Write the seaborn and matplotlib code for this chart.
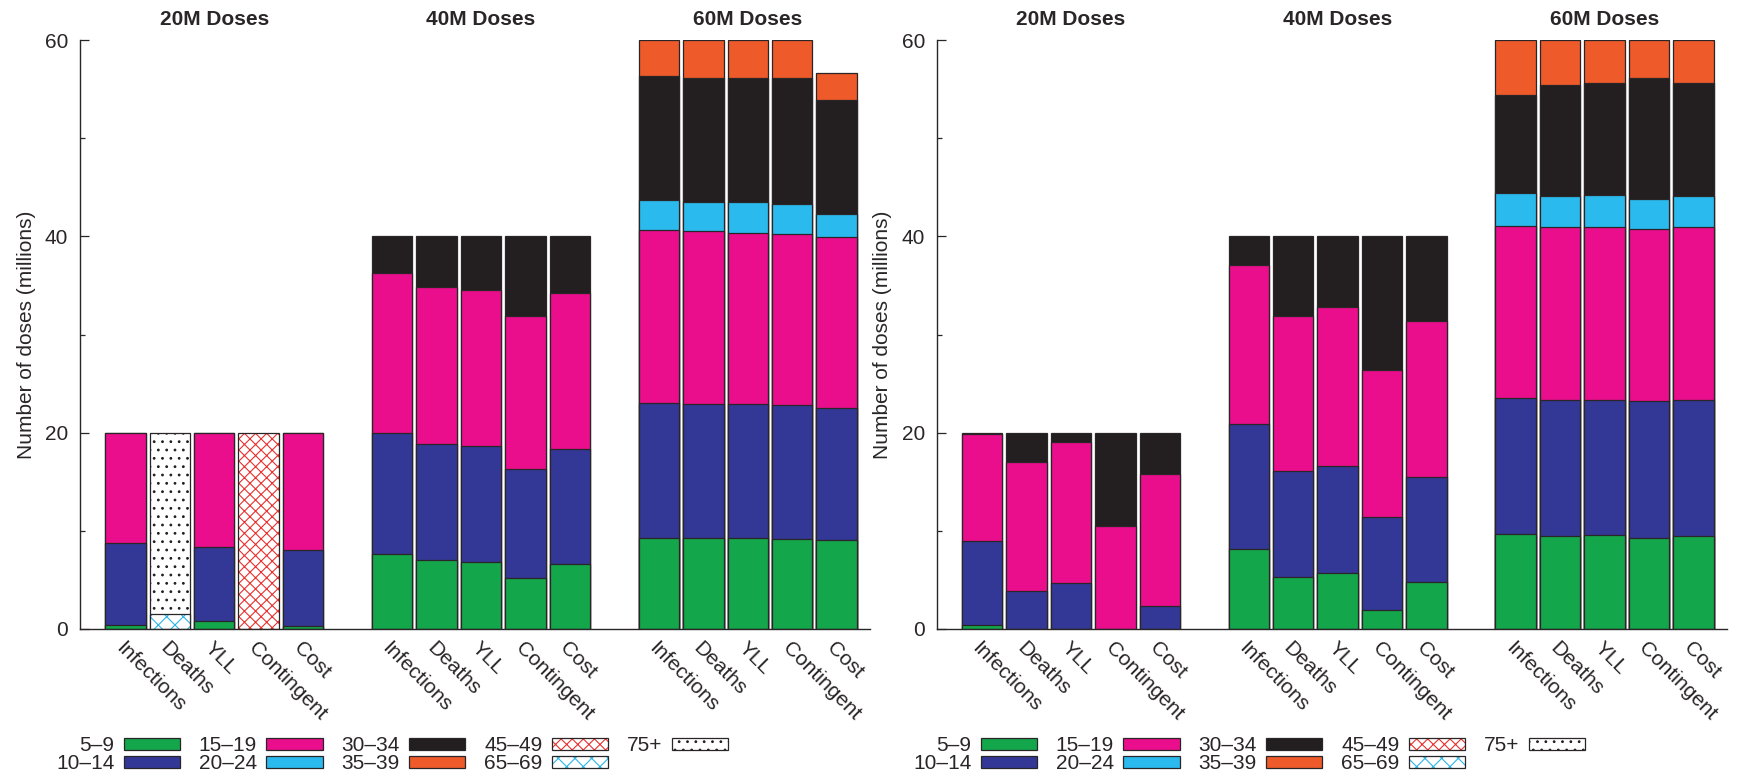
import numpy as np
import pandas as pd
import matplotlib
matplotlib.use("Agg")
import matplotlib.pyplot as plt
import matplotlib.patches as mpatches
from matplotlib.ticker import MultipleLocator
import seaborn as sns

# ---------------------------------------------------------------- data
metrics = ["Infections", "Deaths", "YLL", "Contingent", "Cost"]
dose_levels = ["20M Doses", "40M Doses", "60M Doses"]
age_groups = ["5–9", "10–14", "15–19", "20–24", "30–34", "35–39",
              "45–49", "65–69", "75+"]

# doses given to each age group (millions); 15 bars = 3 dose levels x 5 metrics
left_5_9 = [0.37, 0, 0.77, 0, 0.27, 7.63, 6.98, 6.85, 5.19, 6.64,
            9.3, 9.3, 9.3, 9.2, 9.1]
left_10_14 = [8.38, 0, 7.63, 0, 7.76, 12.37, 11.87, 11.8, 11.11, 11.66,
              13.7, 13.6, 13.6, 13.6, 13.4]
left_15_19 = [11.19, 0, 11.52, 0, 11.89, 16.25, 15.95, 15.85, 15.6, 15.9,
              17.62, 17.62, 17.48, 17.48, 17.4]
left_20_24 = [0, 0, 0, 0, 0, 0, 0, 0, 0, 0,
              3.05, 2.95, 3.09, 3.05, 2.35]
left_30_34 = [0.06, 0, 0.08, 0, 0.08, 3.75, 5.2, 5.5, 8.1, 5.8,
              12.68, 12.68, 12.68, 12.77, 11.6]
left_35_39 = [0, 0, 0, 0, 0, 0, 0, 0, 0, 0,
              3.65, 3.85, 3.85, 3.9, 2.75]
left_45_49 = [0, 0, 0, 20, 0, 0, 0, 0, 0, 0, 0, 0, 0, 0, 0]
left_65_69 = [0, 1.5, 0, 0, 0, 0, 0, 0, 0, 0, 0, 0, 0, 0, 0]
left_75_plus = [0, 18.5, 0, 0, 0, 0, 0, 0, 0, 0, 0, 0, 0, 0, 0]

right_5_9 = [0.4, 0, 0, 0, 0, 8.1, 5.3, 5.7, 1.97, 4.8,
             9.7, 9.45, 9.55, 9.3, 9.45]
right_10_14 = [8.6, 3.85, 4.65, 0, 2.3, 12.8, 10.8, 10.9, 9.43, 10.7,
               13.8, 13.85, 13.75, 13.9, 13.85]
right_15_19 = [10.9, 13.15, 14.35, 10.5, 13.5, 16.2, 15.8, 16.2, 14.95, 15.85,
               17.6, 17.6, 17.7, 17.57, 17.6]
right_20_24 = [0, 0, 0, 0, 0, 0, 0, 0, 0, 0,
               3.3, 3.16, 3.16, 3.05, 3.16]
right_30_34 = [0.1, 3.0, 1.0, 9.5, 4.2, 2.9, 8.1, 7.2, 13.65, 8.65,
               10.0, 11.34, 11.46, 12.34, 11.56]
right_35_39 = [0, 0, 0, 0, 0, 0, 0, 0, 0, 0,
               5.6, 4.6, 4.38, 3.84, 4.38]
right_45_49 = [0] * 15
right_65_69 = [0] * 15
right_75_plus = [0] * 15

left_panel = [left_5_9, left_10_14, left_15_19, left_20_24, left_30_34,
              left_35_39, left_45_49, left_65_69, left_75_plus]
right_panel = [right_5_9, right_10_14, right_15_19, right_20_24, right_30_34,
               right_35_39, right_45_49, right_65_69, right_75_plus]

# ---------------------------------------------------------------- styles
EDGE = "#2a2627"
LW = 0.9
# (facecolor, hatch, hatch colour)
styles = {
    "5–9": ("#13a64a", None, None),
    "10–14": ("#333795", None, None),
    "15–19": ("#ea0d8c", None, None),
    "20–24": ("#2bbaed", None, None),
    "30–34": ("#231f20", None, None),
    "35–39": ("#ee5a29", None, None),
    "45–49": ("white", "xxx", "#e8312f"),
    "65–69": ("white", "xx", "#2bb5e6"),
    "75+": ("white", "..", "#231f20"),
}

sns.set_style("ticks")
plt.rcParams["font.family"] = ["Liberation Sans", "DejaVu Sans"]
plt.rcParams["hatch.linewidth"] = 0.8
plt.rcParams["text.color"] = EDGE
plt.rcParams["axes.labelcolor"] = EDGE
plt.rcParams["xtick.color"] = EDGE
plt.rcParams["ytick.color"] = EDGE

# bar keys on the categorical axis, with an empty slot between dose levels
bar_keys = [f"{d}|{m}" for d in dose_levels for m in metrics]
order = []
for i, d in enumerate(dose_levels):
    order += [f"{d}|{m}" for m in metrics]
    if i < len(dose_levels) - 1:
        order.append(f"gap{i}")
bar_pos = [order.index(k) for k in bar_keys]

BAR_W = 0.91


def draw_panel(ax, panel):
    seg = np.array(panel, dtype=float)
    tops = np.cumsum(seg, axis=0)
    keys = np.array(bar_keys)
    # draw cumulative totals from the top layer down so each lower layer
    # covers the part of the bar below its own upper boundary
    for i in reversed(range(len(age_groups))):
        mask = seg[i] > 0
        if not mask.any():
            continue
        df = pd.DataFrame({"bar": keys[mask], "top": tops[i][mask]})
        face, hatch, hcol = styles[age_groups[i]]
        common = dict(data=df, x="bar", y="top", order=order, width=BAR_W,
                      saturation=1, errorbar=None, ax=ax)
        if hatch:
            sns.barplot(color="white", hatch=hatch, edgecolor=hcol,
                        linewidth=0, **common)
            sns.barplot(color="white", facecolor="none", edgecolor=EDGE,
                        linewidth=LW, **common)
        else:
            sns.barplot(color=face, edgecolor=EDGE, linewidth=LW, **common)

    ax.set_xlim(-1.02, 16.75)
    ax.set_ylim(0, 60)
    ax.set_xticks(bar_pos)
    ax.set_xticklabels(metrics * len(dose_levels), rotation=-45,
                       ha="left", va="top", rotation_mode="anchor",
                       fontsize=15)
    ax.tick_params(axis="x", length=0, pad=7)
    ax.set_yticks([0, 20, 40, 60])
    ax.yaxis.set_minor_locator(MultipleLocator(10))
    ax.tick_params(axis="y", which="major", direction="in", length=6.5,
                   width=0.9, labelsize=15, pad=8.5)
    ax.tick_params(axis="y", which="minor", direction="in", length=3.5,
                   width=0.9)
    for side in ("top", "right"):
        ax.spines[side].set_visible(False)
    for side in ("left", "bottom"):
        ax.spines[side].set_linewidth(1.0)
        ax.spines[side].set_color(EDGE)
    ax.set_xlabel("")
    ax.set_ylabel("Number of doses (millions)", fontsize=15)
    ax.yaxis.set_label_coords(-0.056, 0.5)

    # dose-level headings over each group of bars
    for i, d in enumerate(dose_levels):
        centre = bar_pos[i * len(metrics) + 2]
        ax.text(centre, 1.034, d, transform=ax.get_xaxis_transform(),
                ha="center", va="center", fontsize=15, fontweight="bold")


def legend_handle(group):
    face, hatch, hcol = styles[group]
    if hatch:
        return (mpatches.Patch(facecolor="white", edgecolor=hcol,
                               hatch=hatch, linewidth=0),
                mpatches.Patch(facecolor="none", edgecolor=EDGE,
                               linewidth=LW))
    return mpatches.Patch(facecolor=face, edgecolor=EDGE, linewidth=LW)


fig = plt.figure(figsize=(17.4, 7.78), dpi=100)
W, H = 1740, 778
ax_left = fig.add_axes([80 / W, 149 / H, 790 / W, 589 / H])
ax_right = fig.add_axes([936.7 / W, 149 / H, 790 / W, 589 / H])

for ax, panel, x0 in ((ax_left, left_panel, 56), (ax_right, right_panel, 913)):
    draw_panel(ax, panel)
    ax.legend([legend_handle(g) for g in age_groups], age_groups,
              loc="upper left", bbox_to_anchor=(x0 / W, 1 - 736 / H),
              bbox_transform=fig.transFigure, ncol=5, markerfirst=False,
              frameon=False, fontsize=15, handlelength=2.7,
              handleheight=0.5, handletextpad=0.45, columnspacing=0.9,
              labelspacing=-0.05, borderpad=0, borderaxespad=0)

fig.savefig("out.png", dpi=100, facecolor="white")
